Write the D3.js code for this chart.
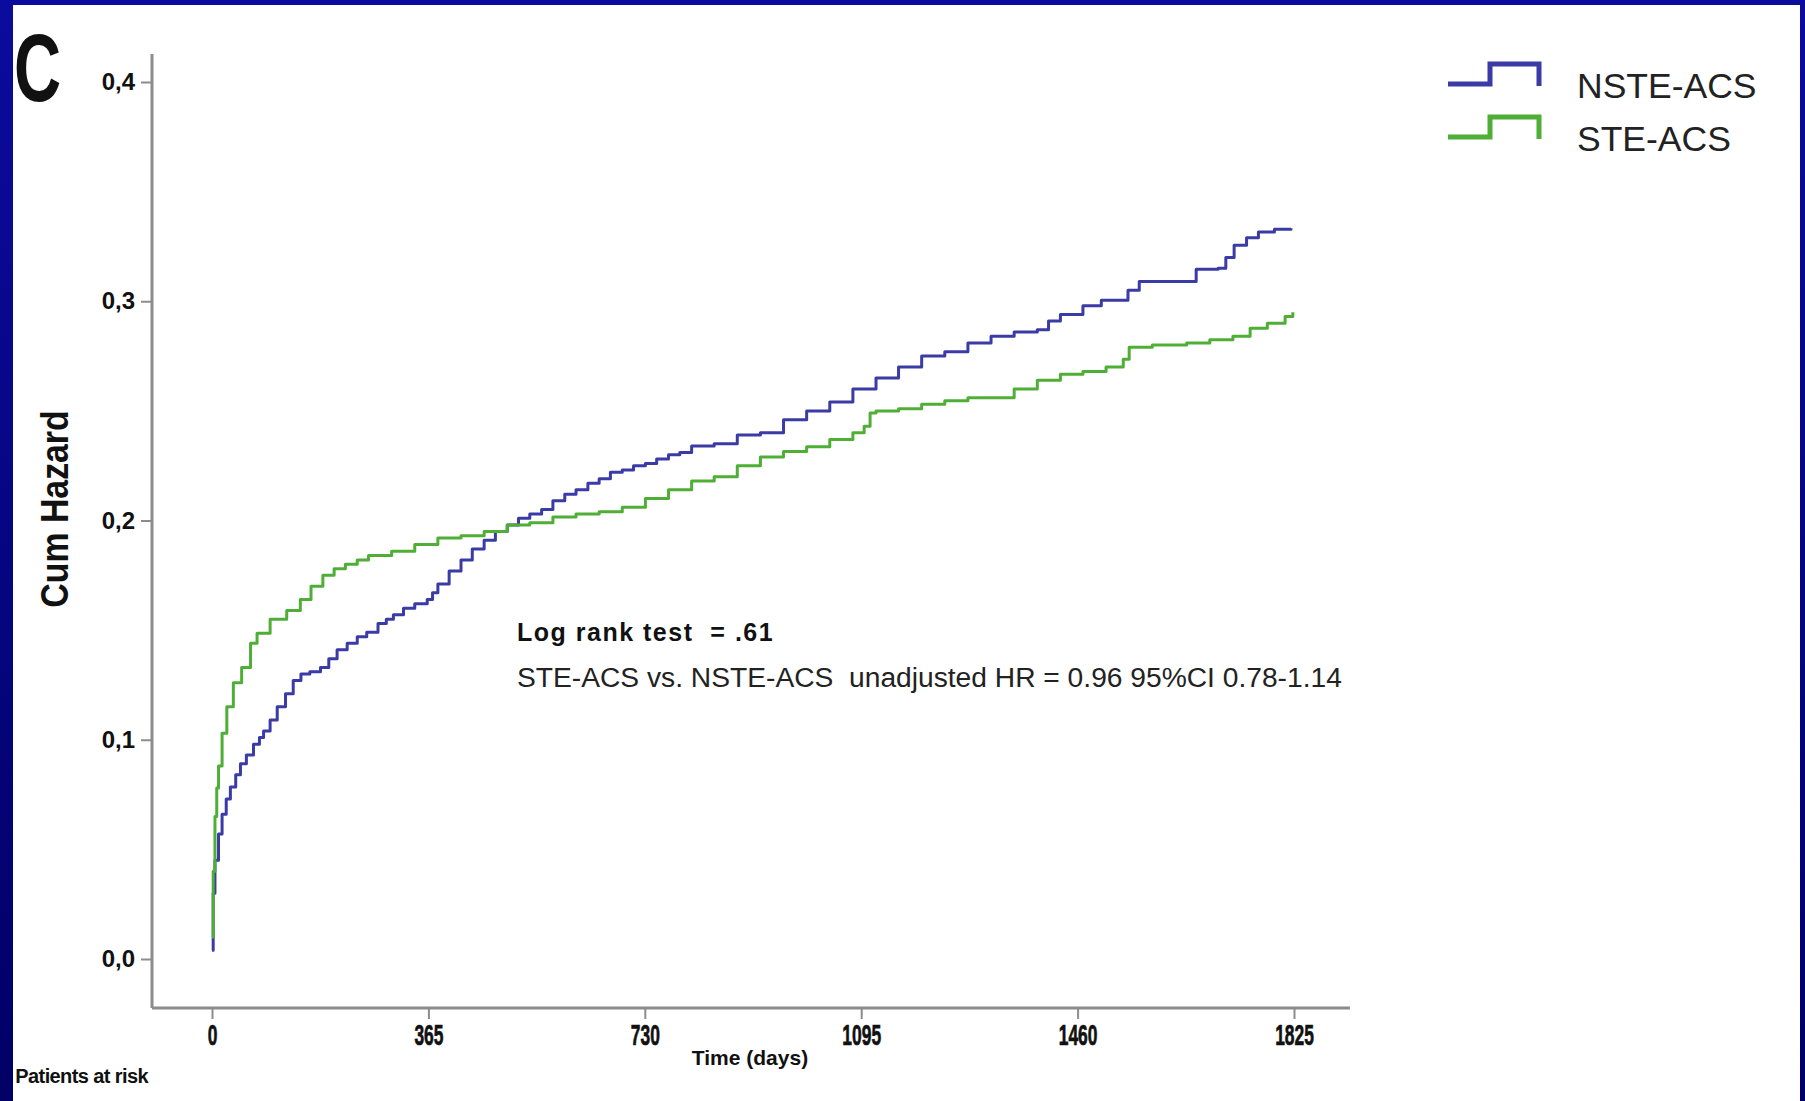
<!DOCTYPE html>
<html>
<head>
<meta charset="utf-8">
<script src="https://cdn.jsdelivr.net/npm/d3@7"></script>
<style>
  body { margin: 0; background: #fff; }
  svg { display: block; }
</style>
</head>
<body>
<script>
// cumulative hazard, days since index event
var nsteDays = [0, 2, 5, 11, 17, 24, 31, 40, 48, 58, 70, 80, 87, 98, 110, 124, 137, 150, 165, 183,
  197, 211, 228, 245, 261, 280, 294, 306, 323, 342, 363, 372, 381, 400, 420, 439, 459, 478, 498, 517,
  536, 556, 575, 595, 614, 634, 653, 672, 692, 711, 731, 750, 770, 789, 809, 847, 886, 925, 964, 1003,
  1042, 1081, 1120, 1158, 1197, 1236, 1275, 1314, 1353, 1392, 1411, 1431, 1469, 1500, 1525, 1545, 1564,
  1640, 1660, 1697, 1710, 1724, 1745, 1765, 1792, 1820];
var nsteHaz = [0.004, 0.030, 0.045, 0.057, 0.066, 0.073, 0.0785, 0.084, 0.089, 0.093, 0.098, 0.101, 0.104,
  0.109, 0.115, 0.121, 0.127, 0.130, 0.131, 0.133, 0.137, 0.141, 0.144, 0.147, 0.149, 0.153, 0.155, 0.157,
  0.160, 0.162, 0.164, 0.167, 0.171, 0.177, 0.182, 0.187, 0.191, 0.195, 0.198, 0.201, 0.203, 0.205, 0.209,
  0.212, 0.214, 0.217, 0.219, 0.222, 0.223, 0.225, 0.226, 0.228, 0.230, 0.231, 0.234, 0.235, 0.239, 0.240,
  0.246, 0.250, 0.254, 0.260, 0.265, 0.270, 0.275, 0.277, 0.281, 0.284, 0.286, 0.287, 0.291, 0.294, 0.298,
  0.3005, 0.3005, 0.305, 0.309, 0.309, 0.3146, 0.315, 0.320, 0.3255, 0.329, 0.3316, 0.3328, 0.3333];

var steDays = [0, 2, 5, 8, 11, 17, 25, 36, 50, 65, 76, 98, 126, 149, 167, 187, 206, 225, 245, 264,
  303, 342, 381, 420, 459, 498, 536, 575, 614, 653, 692, 731, 770, 809, 847, 886, 925, 964, 1003, 1042,
  1081, 1100, 1110, 1120, 1158, 1197, 1236, 1275, 1314, 1353, 1392, 1431, 1469, 1508, 1537, 1547, 1586,
  1644, 1683, 1722, 1751, 1780, 1810, 1823];
var steHaz = [0.010, 0.040, 0.065, 0.078, 0.088, 0.103, 0.115, 0.126, 0.133, 0.144, 0.1486, 0.155, 0.159,
  0.164, 0.170, 0.175, 0.178, 0.180, 0.182, 0.184, 0.186, 0.189, 0.192, 0.193, 0.195, 0.198, 0.199, 0.2016,
  0.203, 0.204, 0.206, 0.210, 0.214, 0.218, 0.220, 0.225, 0.229, 0.2315, 0.2336, 0.237, 0.240, 0.243, 0.249,
  0.250, 0.251, 0.253, 0.2546, 0.256, 0.256, 0.260, 0.264, 0.2667, 0.268, 0.270, 0.2735, 0.279, 0.280, 0.281,
  0.2824, 0.284, 0.2877, 0.290, 0.293, 0.295];

var seriesNames = ['NSTE-ACS', 'STE-ACS'];
var seriesColors = ['#3b3ba6', '#4fae35'];
var xTicks = [0, 365, 730, 1095, 1460, 1825];
var yTicks = [0, 0.1, 0.2, 0.3, 0.4];

var width = 1805, height = 1101;

var svg = d3.select('body').append('svg')
  .attr('width', width)
  .attr('height', height);

var defs = svg.append('defs');
var grad = defs.append('linearGradient').attr('id', 'frame')
  .attr('x1', 0).attr('y1', 0).attr('x2', 0).attr('y2', 1);
grad.append('stop').attr('offset', 0).attr('stop-color', '#0b0b9e');
grad.append('stop').attr('offset', 1).attr('stop-color', '#000066');

var x = d3.scaleLinear().domain([0, 1825]).range([212, 1294]);
var y = d3.scaleLinear().domain([0, 0.4]).range([959, 82]);

// axes (SPSS style: gray frame lines, ticks outside)
var axisColor = '#8c8c8c';
var xAxisY = 1008, yAxisX = 152;

var xAxis = svg.append('g')
  .attr('transform', 'translate(0,' + xAxisY + ')')
  .call(d3.axisBottom(x).tickValues(xTicks).tickSize(11).tickSizeOuter(0).tickPadding(5)
    .tickFormat(d3.format('d')));
xAxis.select('.domain').remove();
xAxis.append('line').attr('x1', yAxisX).attr('x2', 1350).attr('y1', 0).attr('y2', 0)
  .attr('stroke', axisColor).attr('stroke-width', 3);
xAxis.selectAll('.tick line').attr('stroke', axisColor).attr('stroke-width', 2);
xAxis.selectAll('.tick text')
  .attr('fill', '#111')
  .attr('stroke', '#111')
  .attr('stroke-width', 0.7)
  .attr('transform', 'scale(0.58,1)')
  .style('font-family', '"Liberation Sans", Arial, sans-serif')
  .style('font-weight', 'bold')
  .style('font-size', '30px');

var yAxis = svg.append('g')
  .attr('transform', 'translate(' + yAxisX + ',0)')
  .call(d3.axisLeft(y).tickValues(yTicks).tickSize(11).tickSizeOuter(0).tickPadding(6)
    .tickFormat(function(d){ return d3.format('.1f')(d).replace('.', ','); }));
yAxis.select('.domain').remove();
yAxis.append('line').attr('x1', 0).attr('x2', 0).attr('y1', 54).attr('y2', xAxisY)
  .attr('stroke', axisColor).attr('stroke-width', 3);
yAxis.selectAll('.tick line').attr('stroke', axisColor).attr('stroke-width', 2);
yAxis.selectAll('.tick text')
  .attr('fill', '#111')
  .style('font-family', '"Liberation Sans", Arial, sans-serif')
  .style('font-weight', 'bold')
  .style('font-size', '24px');

// step curves
var line = d3.line()
  .x(function(d){ return x(d[0]); })
  .y(function(d){ return y(d[1]); })
  .curve(d3.curveStepAfter);

var series = [
  d3.zip(nsteDays, nsteHaz),
  d3.zip(steDays, steHaz)
];

svg.selectAll('.curve')
  .data(series)
  .enter()
  .append('path')
  .attr('class', 'curve')
  .attr('d', line)
  .attr('fill', 'none')
  .attr('stroke', function(d, i){ return seriesColors[i]; })
  .attr('stroke-width', 3)
  .attr('stroke-linejoin', 'round');

// axis titles
svg.append('text')
  .attr('transform', 'translate(68,509) rotate(-90) scale(0.89,1)')
  .attr('text-anchor', 'middle')
  .style('font-family', '"Liberation Sans", Arial, sans-serif')
  .style('font-weight', 'bold')
  .style('font-size', '38px')
  .attr('fill', '#111')
  .text('Cum Hazard');

svg.append('text')
  .attr('x', 750).attr('y', 1065)
  .attr('text-anchor', 'middle')
  .style('font-family', '"Liberation Sans", Arial, sans-serif')
  .style('font-weight', 'bold')
  .style('font-size', '21px')
  .attr('fill', '#111')
  .text('Time (days)');

svg.append('text')
  .attr('x', 148).attr('y', 1083)
  .attr('text-anchor', 'end')
  .style('font-family', '"Liberation Sans", Arial, sans-serif')
  .style('font-weight', 'bold')
  .style('font-size', '20px')
  .style('letter-spacing', '-0.6px')
  .attr('fill', '#111')
  .text('Patients at risk');

// annotation
svg.append('text')
  .attr('x', 517).attr('y', 641)
  .style('font-family', '"Liberation Sans", Arial, sans-serif')
  .style('font-weight', 'bold')
  .style('font-size', '25px')
  .style('letter-spacing', '1.5px')
  .attr('fill', '#111')
  .attr('xml:space', 'preserve')
  .text('Log rank test  = .61');

svg.append('text')
  .attr('x', 517).attr('y', 687)
  .style('font-family', '"Liberation Sans", Arial, sans-serif')
  .style('font-size', '28.2px')
  .attr('fill', '#222')
  .attr('xml:space', 'preserve')
  .text('STE-ACS vs. NSTE-ACS  unadjusted HR = 0.96 95%CI 0.78-1.14');

// legend with step symbols
var legend = svg.append('g').attr('class', 'legend');
var legendRows = [84, 137];
seriesNames.forEach(function(name, i){
  var yb = legendRows[i];
  legend.append('path')
    .attr('d', 'M1448,' + yb + 'H1490V' + (yb - 20) + 'H1539V' + (yb + 2))
    .attr('fill', 'none')
    .attr('stroke', seriesColors[i])
    .attr('stroke-width', 5);
  legend.append('text')
    .attr('x', 1577).attr('y', yb + 14)
    .style('font-family', '"Liberation Sans", Arial, sans-serif')
    .style('font-size', '35.5px')
    .attr('fill', '#222')
    .text(name);
});

// panel letter
svg.append('text')
  .attr('transform', 'translate(14,101) scale(0.68,1)')
  .style('font-family', '"Liberation Sans", Arial, sans-serif')
  .style('font-weight', 'bold')
  .style('font-size', '96px')
  .attr('fill', '#111')
  .text('C');

// slide frame on top
svg.append('path')
  .attr('d', 'M0,0H' + width + 'V' + height + 'H1800V5H13V' + height + 'H0Z')
  .attr('fill', 'url(#frame)');
</script>
</body>
</html>
